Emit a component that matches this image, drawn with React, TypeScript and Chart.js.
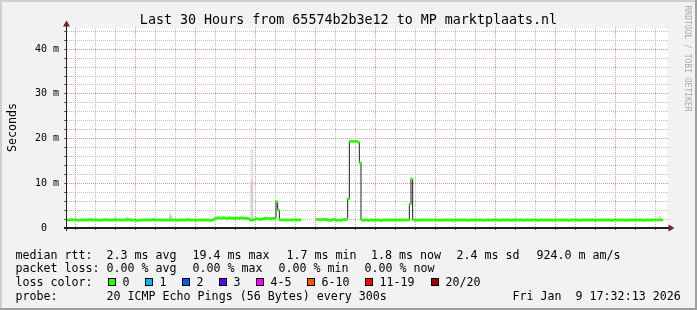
import React, { useEffect, useRef } from "react";
import { Chart, registerables } from "chart.js";

Chart.register(...registerables);

// ---------- text ----------
const TITLE = "Last 30 Hours from 65574b2b3e12 to MP marktplaats.nl";
const Y_TITLE = "Seconds";
const WATERMARK = "RRDTOOL / TOBI OETIKER";
const RTT_HEAD = "median rtt:";
const RTT_STATS = ["2.3 ms avg", "19.4 ms max", "1.7 ms min", "1.8 ms now", "2.4 ms sd", "924.0 m am/s"];
const LOSS_HEAD = "packet loss:";
const LOSS_STATS = ["0.00 % avg", "0.00 % max", "0.00 % min", "0.00 % now"];
const COLOR_HEAD = "loss color:";
const LOSS_LABELS = ["0", "1", "2", "3", "4-5", "6-10", "11-19", "20/20"];
const LOSS_COLORS = ["#26ff00", "#00b8ff", "#0059ff", "#5e00ff", "#ff00ff", "#ff5500", "#ff0000", "#a10000"];
const PROBE_HEAD = "probe:";
const PROBE_TEXT = "20 ICMP Echo Pings (56 Bytes) every 300s";
const STAMP = "Fri Jan  9 17:32:13 2026";

// ---------- axes ----------
const START_HOUR = 11 + 32 / 60 + 13 / 3600; // Thu 11:32:13, hours since Thu 00:00
const SPAN_HOURS = 30;
const STEP_HOURS = 5 / 60; // 300 s
const Y_MAX = 44.74;
const X_LABEL_HOURS = [12, 18, 24, 30, 36];
const X_TICK_LABELS = ["Thu 12:00", "Thu 18:00", "Fri 00:00", "Fri 06:00", "Fri 12:00"];
const Y_GRID = [0, 2, 4, 6, 8, 10, 12, 14, 16, 18, 20, 22, 24, 26, 28, 30, 32, 34, 36, 38, 40, 42, 44];
const Y_LABEL_VALUES = [0, 10, 20, 30, 40];
const Y_TICK_LABELS = ["0", "10 m", "20 m", "30 m", "40 m"];

// ---------- data: median rtt (ms), one value per 300 s step ----------
const MEDIAN_MS: (number | null)[] = [
  1.8, 1.8, 1.8, 1.9, 1.8, 1.8, 1.8, 1.7, 1.8, 1.8, 1.8, 1.8,
  1.8, 1.8, 1.9, 1.8, 1.8, 1.8, 1.8, 1.8, 1.7, 1.8, 1.8, 1.9,
  1.8, 1.8, 1.8, 1.8, 1.8, 1.9, 1.8, 1.8, 1.8, 1.8, 1.8, 1.8,
  1.8, 1.9, 1.8, 1.8, 1.8, 1.8, 1.7, 1.7, 1.7, 1.8, 1.8, 1.8,
  1.8, 1.8, 1.8, 1.8, 1.9, 1.8, 1.8, 1.8, 1.8, 1.8, 1.8, 1.7,
  1.8, 1.8, 1.8, 1.8, 1.8, 1.8, 1.7, 1.8, 1.8, 1.8, 1.8, 1.8,
  1.8, 1.9, 1.8, 1.8, 1.8, 1.8, 1.7, 1.8, 1.8, 1.8, 1.8, 1.8,
  1.8, 1.8, 1.7, 1.8, 1.8, 2.1, 2.2, 2.3, 2.2, 2.2, 2.3, 2.2,
  2.2, 2.2, 2.3, 2.2, 2.2, 2.1, 2.2, 2.2, 2.2, 2.3, 2.2, 2.2,
  2.2, 2.1, 1.8, 1.8, 1.8, 2.0, 2.1, 2.0, 1.9, 2.1, 2.0, 2.2,
  2.1, 2.2, 2.0, 2.2, 2.1, 2.2, 5.9, 4.0, 1.8, 1.8, 1.8, 1.8,
  1.8, 1.8, 1.8, 1.8, 1.8, 1.8, 1.8, 1.8, 1.8, null, null, null,
  null, null, null, null, null, null, 1.9, 1.9, 1.8, 1.9, 1.9, 1.9,
  1.9, 1.8, 1.7, 1.8, 1.9, 1.9, 1.7, 1.8, 1.7, 1.8, 1.9, 1.9,
  1.9, 6.5, 19.4, 19.4, 19.4, 19.4, 19.4, 19.2, 14.6, 1.8, 1.7, 1.8,
  1.8, 1.7, 1.8, 1.8, 1.7, 1.8, 1.8, 1.8, 1.7, 1.7, 1.8, 1.8,
  1.8, 1.8, 1.8, 1.8, 1.8, 1.8, 1.8, 1.8, 1.8, 1.8, 1.8, 1.8,
  1.8, 1.8, 5.3, 11.0, 1.8, 1.8, 1.7, 1.8, 1.8, 1.8, 1.8, 1.8,
  1.8, 1.8, 1.8, 1.8, 1.8, 1.8, 1.8, 1.8, 1.7, 1.8, 1.8, 1.8,
  1.8, 1.8, 1.8, 1.8, 1.7, 1.8, 1.8, 1.8, 1.8, 1.8, 1.8, 1.8,
  1.8, 1.7, 1.8, 1.8, 1.8, 1.8, 1.8, 1.8, 1.8, 1.8, 1.7, 1.8,
  1.8, 1.8, 1.8, 1.8, 1.8, 1.8, 1.8, 1.8, 1.7, 1.8, 1.8, 1.8,
  1.8, 1.8, 1.8, 1.7, 1.8, 1.8, 1.8, 1.8, 1.8, 1.8, 1.7, 1.8,
  1.8, 1.8, 1.8, 1.8, 1.8, 1.8, 1.8, 1.7, 1.8, 1.8, 1.8, 1.8,
  1.8, 1.8, 1.8, 1.8, 1.7, 1.8, 1.8, 1.8, 1.8, 1.8, 1.8, 1.8,
  1.8, 1.7, 1.8, 1.8, 1.8, 1.8, 1.8, 1.8, 1.7, 1.8, 1.8, 1.8,
  1.8, 1.8, 1.8, 1.8, 1.8, 1.7, 1.8, 1.8, 1.8, 1.8, 1.8, 1.8,
  1.8, 1.8, 1.8, 1.7, 1.8, 1.8, 1.8, 1.8, 1.8, 1.8, 1.8, 1.7,
  1.8, 1.8, 1.8, 1.8, 1.8, 1.8, 1.8, 1.8, 1.8, 1.8, 1.7, 1.8,
  1.8, 1.8, 1.8, 1.8, 1.8, 1.8, 1.8, 1.8, 1.8, 1.8, null, null,
];

// smoke (spread of the 20 pings) where it shows above the median band
const SMOKE_STEP = [36, 62, 63, 111, 356];
const SMOKE_MAX_MS = [2.5, 3.3, 2.7, 17.5, 2.6];
const SMOKE_MID_MS = [2.2, 2.6, 2.3, 10.5, 2.2];

const BAND_MS = 0.22; // half height of the coloured loss band

// ---------- styles ----------
const FONT = "'DejaVu Sans Mono', monospace";
const MINOR = "#bcbcbc";
const MAJOR = "#eb9090";

const stepX = (i: number) => START_HOUR + (i + 0.5) * STEP_HOURS;

const hourTicks = () => {
  const t: number[] = [];
  for (let h = Math.ceil(START_HOUR); h <= START_HOUR + SPAN_HOURS; h++) t.push(h);
  return t;
};

const rrdPlugin = {
  id: "rrd",
  beforeDraw(chart: any) {
    const { ctx, chartArea: a } = chart;
    ctx.save();
    ctx.fillStyle = "#f2f2f2";
    ctx.fillRect(0, 0, 697, 310);
    ctx.fillStyle = "#cfcfcf";
    ctx.fillRect(0, 0, 697, 2);
    ctx.fillRect(0, 0, 2, 310);
    ctx.fillStyle = "#9e9e9e";
    ctx.fillRect(0, 308, 697, 2);
    ctx.fillRect(695, 0, 2, 310);
    ctx.fillStyle = "#ffffff";
    ctx.fillRect(a.left, a.top, a.right - a.left + 2, a.bottom - a.top);
    ctx.restore();
  },
  beforeDatasetsDraw(chart: any) {
    // dotted RRD-style grid, positioned through the chart's own scales
    const { ctx, chartArea: a, scales } = chart;
    const xs = scales.x;
    const ys = scales.y;
    const top = Math.round(a.top);
    const bottom = Math.round(a.bottom);
    const left = Math.round(a.left);
    const right = Math.round(a.right) + 2;
    ctx.save();
    const drawH = (v: number, color: string) => {
      const y = Math.round(ys.getPixelForValue(v) - 0.5);
      ctx.fillStyle = color;
      for (let x = left + 1; x < right; x += 2) ctx.fillRect(x, y, 1, 1);
    };
    const drawV = (h: number, color: string) => {
      const x = Math.round(xs.getPixelForValue(h) - 0.5);
      ctx.fillStyle = color;
      for (let y = top; y < bottom; y += 2) ctx.fillRect(x, y, 1, 1);
    };
    const hours = hourTicks();
    hours.forEach((h) => { if (h % 3 !== 0) drawV(h, MINOR); });
    Y_GRID.forEach((v) => { if (v > 0 && Y_LABEL_VALUES.indexOf(v) < 0) drawH(v, MINOR); });
    hours.forEach((h) => { if (h % 3 === 0) drawV(h, MAJOR); });
    Y_GRID.forEach((v) => { if (v > 0 && Y_LABEL_VALUES.indexOf(v) >= 0) drawH(v, MAJOR); });
    ctx.restore();
  },
  afterDatasetsDraw(chart: any) {
    const { ctx } = chart;
    ctx.save();
    ctx.fillStyle = "#1f1f1f";
    ctx.fillRect(66, 25, 1, 206);
    ctx.fillRect(64, 227, 605, 2);
    ctx.fillStyle = "#801f1f";
    ctx.beginPath();
    ctx.moveTo(66.5, 20.5);
    ctx.lineTo(70, 26.5);
    ctx.lineTo(63, 26.5);
    ctx.closePath();
    ctx.fill();
    ctx.beginPath();
    ctx.moveTo(674.5, 228);
    ctx.lineTo(668.5, 224.5);
    ctx.lineTo(668.5, 231.5);
    ctx.closePath();
    ctx.fill();
    ctx.restore();
  },
  afterDraw(chart: any) {
    const { ctx } = chart;
    ctx.save();
    ctx.fillStyle = "#000";
    ctx.textBaseline = "alphabetic";
    // title
    ctx.font = `13.33px ${FONT}`;
    ctx.textAlign = "center";
    ctx.fillText(TITLE, 348.5, 24);
    // y title
    ctx.font = `11.65px ${FONT}`;
    ctx.save();
    ctx.translate(15.5, 127.5);
    ctx.rotate(-Math.PI / 2);
    ctx.fillText(Y_TITLE, 0, 0);
    ctx.restore();
    // watermark
    ctx.save();
    ctx.fillStyle = "#a8a8a8";
    ctx.font = `8px ${FONT}`;
    ctx.translate(685, 58.5);
    ctx.rotate(Math.PI / 2);
    ctx.fillText(WATERMARK, 0, 0);
    ctx.restore();
    // legend
    ctx.textAlign = "left";
    ctx.font = `11.65px ${FONT}`;
    const rows = [258.5, 272.2, 286, 299.8];
    ctx.fillText(RTT_HEAD, 15.5, rows[0]);
    const rttX = [106.5, 192.5, 286.5, 371, 456.5, 536.5];
    RTT_STATS.forEach((t, i) => ctx.fillText(t, rttX[i], rows[0]));
    ctx.fillText(LOSS_HEAD, 15.5, rows[1]);
    const lossX = [106.5, 192.5, 278.5, 364.5];
    LOSS_STATS.forEach((t, i) => ctx.fillText(t, lossX[i], rows[1]));
    ctx.fillText(COLOR_HEAD, 15.5, rows[2]);
    const boxX = [108, 145, 182, 219, 256, 307, 365, 431];
    LOSS_LABELS.forEach((t, i) => {
      ctx.fillStyle = LOSS_COLORS[i];
      ctx.fillRect(boxX[i], 278, 8, 8);
      ctx.strokeStyle = "#000";
      ctx.lineWidth = 1;
      ctx.strokeRect(boxX[i] + 0.5, 278.5, 7, 7);
      ctx.fillStyle = "#000";
      ctx.fillText(t, boxX[i] + 14.5, rows[2]);
    });
    ctx.fillText(PROBE_HEAD, 15.5, rows[3]);
    ctx.fillText(PROBE_TEXT, 106.5, rows[3]);
    ctx.fillText(STAMP, 512.5, rows[3]);
    ctx.restore();
  },
};

export default function App() {
  const ref = useRef<HTMLCanvasElement>(null);

  useEffect(() => {
    if (!ref.current) return;
    const medianPts = MEDIAN_MS.map((v, i) => ({ x: stepX(i), y: v }));
    const bandPts = MEDIAN_MS.map((v, i) => ({ x: stepX(i), y: v }))
      .filter((p) => p.y != null)
      .map((p) => ({ x: p.x, y: [(p.y as number) - BAND_MS, (p.y as number) + BAND_MS] }));
    const smokeOuter = SMOKE_STEP.map((s, k) => ({ x: stepX(s), y: [MEDIAN_MS[s] as number, SMOKE_MAX_MS[k]] }));
    const smokeInner = SMOKE_STEP.map((s, k) => ({ x: stepX(s), y: [MEDIAN_MS[s] as number, SMOKE_MID_MS[k]] }));

    const barCommon = { grouped: false, barPercentage: 1, categoryPercentage: 1, borderWidth: 0 };

    const chart = new Chart(ref.current, {
      type: "line",
      data: {
        datasets: [
          { type: "bar", label: "loss 0", data: bandPts as any, backgroundColor: LOSS_COLORS[0], order: 1, ...barCommon } as any,
          { type: "line", label: "median", data: medianPts as any, borderColor: "#202020", borderWidth: 1, stepped: "middle", pointRadius: 0, spanGaps: false, fill: false, order: 2 } as any,
          { type: "bar", label: "smoke mid", data: smokeInner as any, backgroundColor: "#cfcfcf", order: 3, ...barCommon } as any,
          { type: "bar", label: "smoke max", data: smokeOuter as any, backgroundColor: "#e0e0e0", order: 4, ...barCommon } as any,
        ],
      },
      options: {
        responsive: false,
        maintainAspectRatio: false,
        animation: false,
        devicePixelRatio: 1,
        events: [],
        layout: { padding: { left: 0, top: 28, right: 31, bottom: 82 } },
        plugins: { legend: { display: false }, tooltip: { enabled: false }, title: { display: false } },
        scales: {
          x: {
            type: "linear",
            min: START_HOUR,
            max: START_HOUR + SPAN_HOURS,
            offset: false,
            afterBuildTicks: (s: any) => {
              s.ticks = hourTicks().map((h) => ({ value: h }));
            },
            afterFit: (s: any) => {
              s.height = 0;
            },
            grid: {
              offset: false,
              drawOnChartArea: false,
              drawTicks: true,
              tickLength: 2,
              tickColor: "#606060",
            },
            border: { display: false },
            ticks: {
              autoSkip: false,
              maxRotation: 0,
              minRotation: 0,
              padding: 0,
              color: "#000",
              font: { family: FONT, size: 10 },
              callback: (v: any) => {
                const k = X_LABEL_HOURS.indexOf(Number(v));
                return k >= 0 ? X_TICK_LABELS[k] : "";
              },
            },
          },
          y: {
            type: "linear",
            min: 0,
            max: Y_MAX,
            afterBuildTicks: (s: any) => {
              s.ticks = Y_GRID.map((v) => ({ value: v }));
            },
            afterFit: (s: any) => {
              s.width = 66;
            },
            grid: {
              drawOnChartArea: false,
              drawTicks: true,
              tickLength: 2,
              tickColor: "#606060",
            },
            border: { display: false },
            ticks: {
              autoSkip: false,
              padding: 5,
              color: "#000",
              font: { family: FONT, size: 10 },
              callback: (v: any) => {
                const k = Y_LABEL_VALUES.indexOf(Number(v));
                if (k < 0) return "";
                return Y_TICK_LABELS[k].padEnd(k === 0 ? 3 : 4, " ");
              },
            },
          },
        },
      },
      plugins: [rrdPlugin as any],
    } as any);

    return () => chart.destroy();
  }, []);

  return (
    <div style={{ position: "absolute", left: 0, top: 0, width: 697, height: 310 }}>
      <canvas ref={ref} width={697} height={310} style={{ display: "block", width: 697, height: 310 }} />
    </div>
  );
}
